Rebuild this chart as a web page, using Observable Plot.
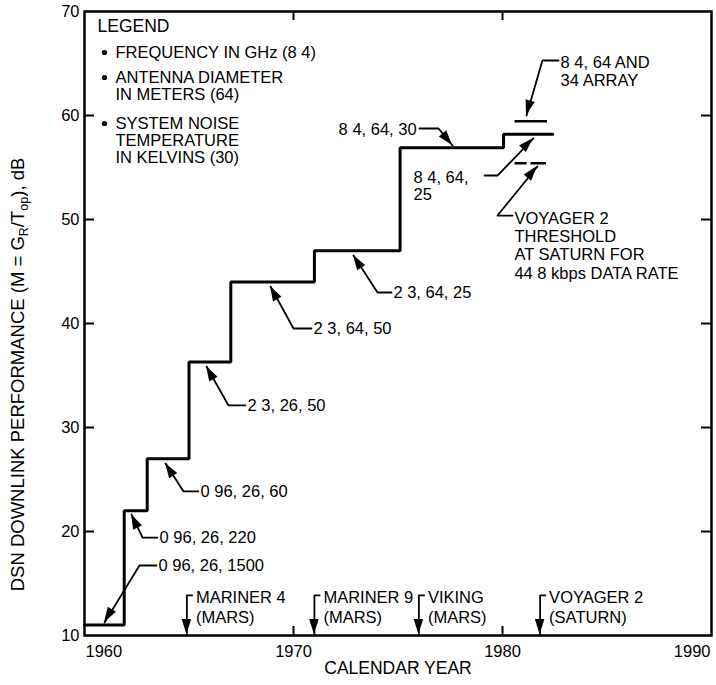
<!DOCTYPE html>
<html><head><meta charset="utf-8">
<script src="https://cdn.jsdelivr.net/npm/d3@7"></script>
<script src="https://cdn.jsdelivr.net/npm/@observablehq/plot@0.6"></script>
<style>body{margin:0;background:#fff;} svg{display:block}</style>
</head><body><div id="chart"></div>
<script>
// ---- data ----
const stepYears = [1960, 1961.9, 1963.0, 1965.0, 1967.0, 1971.0, 1975.1, 1980.05, 1982.4];
const stepDb    = [11, 22, 27, 36.3, 44, 47, 56.9, 58.2, 58.2];
const arrayBarYears = [1980.6, 1982.15];
const arrayBarDb = 59.45;
const thresholdYears = [1980.6, 1982.1];
const thresholdDb = 55.4;

const yTicks = [10, 20, 30, 40, 50, 60, 70];
const yInnerTicks = [20, 30, 40, 50, 60];
const xInnerTicks = [1970, 1980];
const xMidLabels = [1970, 1980];
const xFirstLabel = [1960];
const xLastLabel = [1990];

const missionNames = ["MARINER 4\n(MARS)", "MARINER 9\n(MARS)", "VIKING\n(MARS)", "VOYAGER 2\n(SATURN)"];
const missionYears = [1964.9, 1971.0, 1976.0, 1981.8];
const missionTopDb = 13.85;
const missionTipDb = 10.1;
const missionTextDb = 12.8;

const annoLabels = ["0 96, 26, 1500", "0 96, 26, 220", "0 96, 26, 60", "2 3, 26, 50", "2 3, 64, 50", "2 3, 64, 25",
  "8 4, 64, 30", "8 4, 64,\n25", "VOYAGER 2\nTHRESHOLD\nAT SATURN FOR\n44 8 kbps DATA RATE", "8 4, 64 AND\n34 ARRAY"];
const annoGroup = ["num","num","num","num","num","num","end","num","caps","caps2"];
const annoTextX = [1963.54, 1963.59, 1965.55, 1967.80, 1970.96, 1974.78, 1975.89, 1975.74, 1980.57, 1982.78];
const annoTextY = [16.73, 19.42, 23.85, 32.12, 39.52, 42.98, 58.65, 53.22, 47.5, 64.23];
const annoLeadX = [1963.44, 1963.49, 1965.45, 1967.70, 1970.86, 1974.69, 1976.03, 1979.14, 1980.48, 1982.68];
const annoElbowX = [1962.63, 1962.78, 1964.74, 1966.89, 1970.0, 1974.02, 1976.94, 1979.76, 1979.76, 1981.91];
const annoElbowY = [16.73, 19.42, 23.85, 32.12, 39.52, 42.98, 58.75, 54.23, 50.38, 65.29];
const annoTipX = [1960.96, 1962.25, 1963.88, 1965.84, 1968.90, 1972.87, 1977.61, 1981.48, 1981.67, 1981.15];
const annoTipY = [11.25, 21.63, 26.54, 35.87, 43.56, 46.54, 57.12, 57.79, 55.10, 60.0];

const legendTitle = "LEGEND";
const legendItems = ["FREQUENCY IN GHz (8 4)", "ANTENNA DIAMETER\nIN METERS (64)", "SYSTEM NOISE\nTEMPERATURE\nIN KELVINS (30)"];
const xTitle = "CALENDAR YEAR";
const yTitle = "DSN DOWNLINK PERFORMANCE (M = GR/Top), dB";

// ---- derived tables ----
const steps = stepYears.map((x, i) => ({x, y: stepDb[i]}));
const annos = annoLabels.map((label, i) => ({label, group: annoGroup[i], x: annoTextX[i], y: annoTextY[i]}));
const pointers = [
  ...annoLabels.map((_, i) => ({lx: annoLeadX[i], ex: annoElbowX[i], ey: annoElbowY[i], tx: annoTipX[i], ty: annoTipY[i]})),
  ...missionYears.map(yr => ({lx: yr + 0.25, ex: yr, ey: missionTopDb, tx: yr, ty: missionTipDb}))
];
const pointerPts = pointers.flatMap((p, i) => [
  {x: p.lx, y: p.ey, z: i}, {x: p.ex, y: p.ey, z: i}, {x: p.tx, y: p.ty, z: i}
]);
const missions = missionNames.map((name, i) => ({name, x: missionYears[i], y: missionTextDb}));

function arrowheads(data, len = 15, half = 4.8) {
  return (index, scales) => {
    const g = d3.create("svg:g").attr("fill", "black");
    for (const p of data) {
      const ax = scales.x(p.ex), ay = scales.y(p.ey), bx = scales.x(p.tx), by = scales.y(p.ty);
      const L = Math.hypot(bx - ax, by - ay), ux = (bx - ax) / L, uy = (by - ay) / L;
      const cx = bx - ux * len, cy = by - uy * len;
      g.append("path").attr("d", `M${bx},${by}L${cx - uy * half},${cy + ux * half}L${cx + uy * half},${cy - ux * half}Z`);
    }
    return g.node();
  };
}

const W = 716, H = 685, mL = 84, mR = 5, mT = 11, mB = 50;
const plotW = W - mL - mR, plotH = H - mT - mB;
const LG = 16.5; // legend text size

const chart = Plot.plot({
  width: W, height: H,
  marginLeft: mL, marginRight: mR, marginTop: mT, marginBottom: mB,
  style: {fontFamily: "Liberation Sans", fontSize: "16px", color: "black", background: "white"},
  x: {domain: [1960, 1990], axis: null},
  y: {domain: [10, 70], axis: null},
  marks: [
    Plot.frame({strokeWidth: 2.5}),
    Plot.tickY(yInnerTicks, {y: d => d, insetRight: plotW - 10, strokeWidth: 2}),
    Plot.tickY(yInnerTicks, {y: d => d, insetLeft: plotW - 10, strokeWidth: 2}),
    Plot.tickX(xInnerTicks, {x: d => d, insetTop: plotH - 9, strokeWidth: 2}),
    Plot.tickX(xInnerTicks, {x: d => d, insetBottom: plotH - 9, strokeWidth: 2}),
    Plot.axisY({ticks: yTicks, tickSize: 0, tickPadding: 5, label: null, fontSize: 16.5}),
    Plot.text(xMidLabels, {x: d => d, frameAnchor: "bottom", lineAnchor: "middle", dy: 16, text: d => String(d), fontSize: 16.5}),
    Plot.text(xFirstLabel, {x: d => d, frameAnchor: "bottom", lineAnchor: "middle", dy: 16, dx: 1, textAnchor: "start", text: d => String(d), fontSize: 16.5}),
    Plot.text(xLastLabel, {x: d => d, frameAnchor: "bottom", lineAnchor: "middle", dy: 16, dx: -1, textAnchor: "end", text: d => String(d), fontSize: 16.5}),
    Plot.text([xTitle], {frameAnchor: "bottom", lineAnchor: "middle", textAnchor: "middle", dy: 33, text: d => d, fontSize: 17.5}),
    Plot.text([yTitle], {frameAnchor: "left", lineAnchor: "middle", textAnchor: "middle", rotate: -90, dx: -66, dy: 51, text: d => d, fontSize: 18.5}),
    // step curve
    Plot.line(steps, {x: "x", y: "y", curve: "step-after", strokeWidth: 3, strokeLinejoin: "miter"}),
    Plot.ruleY([arrayBarDb], {x1: arrayBarYears[0], x2: arrayBarYears[1], strokeWidth: 2.5}),
    Plot.ruleY([thresholdDb], {x1: thresholdYears[0], x2: thresholdYears[1], strokeWidth: 2.5, strokeDasharray: "12,4,16"}),
    // pointers
    Plot.line(pointerPts, {x: "x", y: "y", z: "z", strokeWidth: 1.8, curve: "linear"}),
    arrowheads(pointers),
    Plot.text(annos.filter(d => d.group === "num"), {x: "x", y: "y", text: "label", textAnchor: "start", lineHeight: 1.06, fontSize: 16.5}),
    Plot.text(annos.filter(d => d.group === "end"), {x: "x", y: "y", text: "label", textAnchor: "end", fontSize: 16.5}),
    Plot.text(annos.filter(d => d.group === "caps"), {x: "x", y: "y", text: "label", textAnchor: "start", lineHeight: 1.1, fontSize: 16.5}),
    Plot.text(annos.filter(d => d.group === "caps2"), {x: "x", y: "y", text: "label", textAnchor: "start", lineHeight: 1.1, fontSize: 16.5}),
    Plot.text(missions, {x: "x", y: "y", text: "name", dx: 9, textAnchor: "start", lineHeight: 1.21, fontSize: 16.5}),
    // legend
    Plot.text([legendTitle], {frameAnchor: "top-left", lineAnchor: "middle", dx: 13, dy: 15, text: d => d, textAnchor: "start", fontSize: 17.5}),
    Plot.text([legendItems[0]], {frameAnchor: "top-left", lineAnchor: "middle", dx: 31, dy: 41, text: d => d, textAnchor: "start", fontSize: LG}),
    Plot.text([legendItems[1]], {frameAnchor: "top-left", lineAnchor: "middle", dx: 31, dy: 74.5, text: d => d, textAnchor: "start", lineHeight: 1.03, fontSize: LG}),
    Plot.text([legendItems[2]], {frameAnchor: "top-left", lineAnchor: "middle", dx: 31, dy: 129, text: d => d, textAnchor: "start", lineHeight: 1.03, fontSize: LG}),
    Plot.dot([0], {frameAnchor: "top-left", dx: 20, dy: 41, r: 2.6, fill: "black", stroke: null}),
    Plot.dot([0], {frameAnchor: "top-left", dx: 20, dy: 66, r: 2.6, fill: "black", stroke: null}),
    Plot.dot([0], {frameAnchor: "top-left", dx: 20, dy: 112, r: 2.6, fill: "black", stroke: null})
  ]
});
document.getElementById("chart").appendChild(chart);

// subscripts in the y title
d3.select(chart).selectAll("text").each(function() {
  if (this.textContent === yTitle) {
    const t = d3.select(this);
    t.text(null);
    t.append("tspan").text("DSN DOWNLINK PERFORMANCE (M = G");
    t.append("tspan").attr("font-size", 12.5).attr("dy", 4).text("R");
    t.append("tspan").attr("dy", -4).text("/T");
    t.append("tspan").attr("font-size", 12.5).attr("dy", 4).text("op");
    t.append("tspan").attr("dy", -4).text("), dB");
  }
});
</script>
</body></html>
